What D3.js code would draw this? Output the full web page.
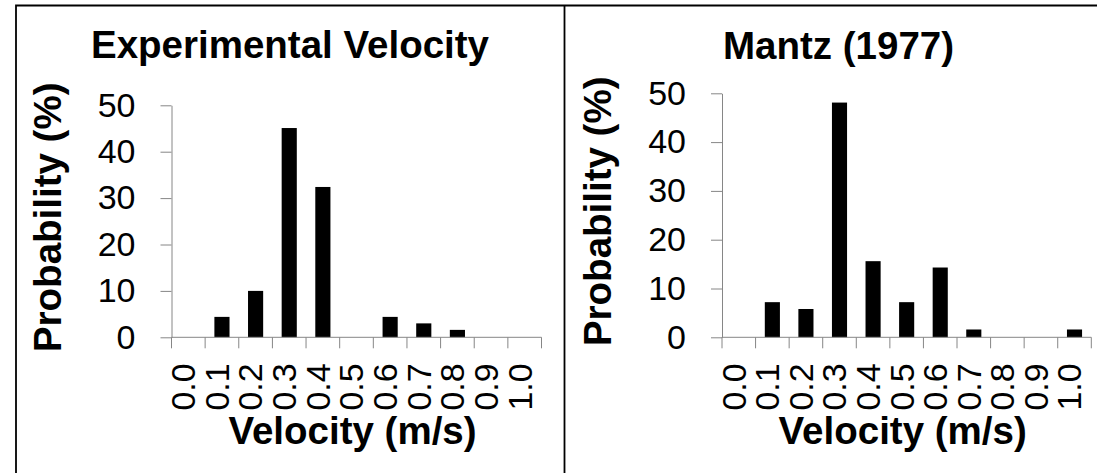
<!DOCTYPE html>
<html>
<head>
<meta charset="utf-8">
<script src="https://cdn.jsdelivr.net/npm/d3@7"></script>
<style>
  html, body { margin: 0; padding: 0; background: #fff; }
  svg { display: block; font-family: "Liberation Sans", Arial, sans-serif; }
</style>
</head>
<body>
<div id="chart"></div>
<script>
// velocity bins (m/s)
const velocities = ['0.0', '0.1', '0.2', '0.3', '0.4', '0.5', '0.6', '0.7', '0.8', '0.9', '1.0'];
// probability (%) per bin
const experimental = [0, 4.4, 10.0, 45.1, 32.4, 0, 4.4, 3.0, 1.6, 0, 0];
const mantz = [0, 7.2, 5.8, 48.1, 15.6, 7.2, 14.3, 1.6, 0, 0, 1.6];
const yTicks = [0, 10, 20, 30, 40, 50];
const titles = ['Experimental Velocity', 'Mantz (1977)'];

const W = 1097, H = 473;
const AXIS = '#868686';
const BOLD = 38.5, TICK = 34;

const panels = [
  { left: 16,    x0: 171.5, x1: 541.5,  yTop: 105.3, yBot: 337.3, titleY: 58, values: experimental, title: titles[0] },
  { left: 564.5, x0: 722,   x1: 1091.3, yTop: 93.3,  yBot: 337.3, titleY: 59, values: mantz,        title: titles[1] }
];

const svg = d3.select('#chart').append('svg')
  .attr('width', W)
  .attr('height', H);

// outer frame + divider
svg.append('path')
  .attr('d', `M16,${H} V5.5 H${W}`)
  .attr('fill', 'none')
  .attr('stroke', '#000')
  .attr('stroke-width', 1.8);
svg.append('line')
  .attr('x1', 564.5).attr('x2', 564.5)
  .attr('y1', 5.5).attr('y2', H)
  .attr('stroke', '#000')
  .attr('stroke-width', 1.8);

panels.forEach(p => {
  const g = svg.append('g');

  const y = d3.scaleLinear().domain([0, 50]).range([p.yBot, p.yTop]);
  // category slots (boundaries at ticks)
  const xc = d3.scaleBand().domain(velocities).range([p.x0, p.x1]).padding(0);
  // bars, centred in slot
  const xb = d3.scaleBand().domain(velocities).range([p.x0, p.x1])
    .paddingInner(0.55).paddingOuter(0.275);

  // title
  g.append('text')
    .attr('x', p.left + 274)
    .attr('y', p.titleY)
    .attr('text-anchor', 'middle')
    .attr('font-size', BOLD)
    .attr('font-weight', 'bold')
    .text(p.title);

  // bars
  g.selectAll('.bar')
    .data(velocities.map((v, i) => ({ v, val: p.values[i] })).filter(d => d.val > 0))
    .join('rect')
    .attr('class', 'bar')
    .attr('x', d => xb(d.v))
    .attr('width', xb.bandwidth())
    .attr('y', d => y(d.val))
    .attr('height', d => y(0) - y(d.val))
    .attr('fill', '#000');

  // y axis
  const gy = g.append('g')
    .attr('transform', `translate(${p.x0},0)`)
    .call(d3.axisLeft(y).tickValues(yTicks).tickSize(11).tickSizeOuter(0).tickPadding(25));
  gy.attr('font-family', null).attr('font-size', TICK);
  gy.selectAll('line, path').attr('stroke', AXIS);
  gy.selectAll('text').attr('fill', '#000');

  // x axis line
  g.append('line')
    .attr('x1', p.x0).attr('x2', p.x1)
    .attr('y1', y(0)).attr('y2', y(0))
    .attr('stroke', AXIS);

  // x tick marks at slot boundaries
  const bounds = velocities.map(v => xc(v)).concat([p.x1]);
  g.selectAll('.xtick')
    .data(bounds)
    .join('line')
    .attr('class', 'xtick')
    .attr('x1', d => d).attr('x2', d => d)
    .attr('y1', y(0)).attr('y2', y(0) + 11)
    .attr('stroke', AXIS);

  // x tick labels, rotated
  const gx = g.append('g')
    .attr('transform', `translate(0,${y(0)})`)
    .call(d3.axisBottom(xc).tickSize(0));
  gx.select('.domain').remove();
  gx.attr('font-family', null).attr('font-size', TICK);
  gx.selectAll('text')
    .attr('fill', '#000')
    .attr('transform', 'rotate(-90)')
    .attr('text-anchor', 'end')
    .attr('x', -26)
    .attr('y', -5)
    .attr('dy', '0.35em');

  // axis titles
  g.append('text')
    .attr('x', (p.x0 + p.x1) / 2 - 4)
    .attr('y', 444)
    .attr('text-anchor', 'middle')
    .attr('font-size', BOLD)
    .attr('font-weight', 'bold')
    .text('Velocity (m/s)');

  g.append('text')
    .attr('transform', `translate(${p.x0 - 111},${(p.yTop + p.yBot) / 2 - 4}) rotate(-90)`)
    .attr('text-anchor', 'middle')
    .attr('font-size', BOLD)
    .attr('font-weight', 'bold')
    .text('Probability (%)');
});
</script>
</body>
</html>
